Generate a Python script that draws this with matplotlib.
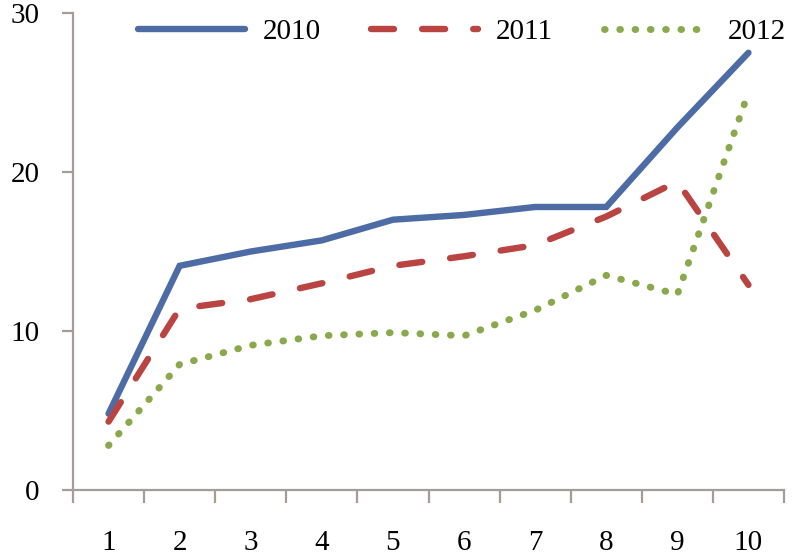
import numpy as np
import matplotlib
matplotlib.use('Agg')
import matplotlib.pyplot as plt

plt.rcParams['font.family'] = ['Liberation Serif', 'DejaVu Serif']

# categories and values
categories = ['1', '2', '3', '4', '5', '6', '7', '8', '9', '10']
series_names = ['2010', '2011', '2012']
values_2010 = [4.8, 14.1, 15.0, 15.7, 17.0, 17.3, 17.8, 17.8, 22.8, 27.5]
values_2011 = [4.3, 11.4, 12.0, 13.0, 14.1, 14.7, 15.4, 17.2, 19.4, 12.9]
values_2012 = [2.8, 7.9, 9.1, 9.7, 9.9, 9.7, 11.3, 13.5, 12.3, 25.0]

x = np.arange(1, len(categories) + 1)

fig = plt.figure(figsize=(8, 5.6), dpi=100)
ax = fig.add_axes([73 / 800, 70 / 560, (784 - 73) / 800, (490 - 13) / 560])

blue = '#4d6ca6'
red = '#b94441'
green = '#8aa84c'

ax.plot(x, values_2010, color=blue, lw=4.6, solid_capstyle='round',
        solid_joinstyle='miter', label=series_names[0])
ax.plot(x, values_2011, color=red, lw=4.6, dashes=(3.6, 4.4),
        dash_capstyle='round', label=series_names[1])
ax.plot(x, values_2012, color=green, lw=5.0, dashes=(0.1, 2.1),
        dash_capstyle='round', label=series_names[2])

ax.set_xlim(0.5, len(categories) + 0.5)
ax.set_ylim(0, 30)

spine_col = '#a39c98'
for side in ['top', 'right']:
    ax.spines[side].set_visible(False)
for side in ['left', 'bottom']:
    ax.spines[side].set_color(spine_col)
    ax.spines[side].set_linewidth(1.6)

# tick marks between categories, labels at the centres
ax.set_xticks(np.arange(0.5, len(categories) + 1, 1))
ax.set_xticklabels([])
ax.set_xticks(x, minor=True)
ax.set_xticklabels(categories, minor=True)
ax.tick_params(axis='x', which='major', length=9, width=1.6, color=spine_col, direction='out')
ax.tick_params(axis='x', which='minor', length=0, pad=29, labelsize=21)

ax.set_yticks([0, 10, 20, 30])
ax.tick_params(axis='y', length=8, width=1.6, color=spine_col, pad=16, labelsize=21)

fig.legend(loc='center', bbox_to_anchor=(462 / 800, 1 - 32 / 560), ncol=3,
           frameon=False, fontsize=21, handlelength=3.65, handletextpad=0.6,
           columnspacing=1.75, borderpad=0)

fig.savefig('out.png', dpi=100)
